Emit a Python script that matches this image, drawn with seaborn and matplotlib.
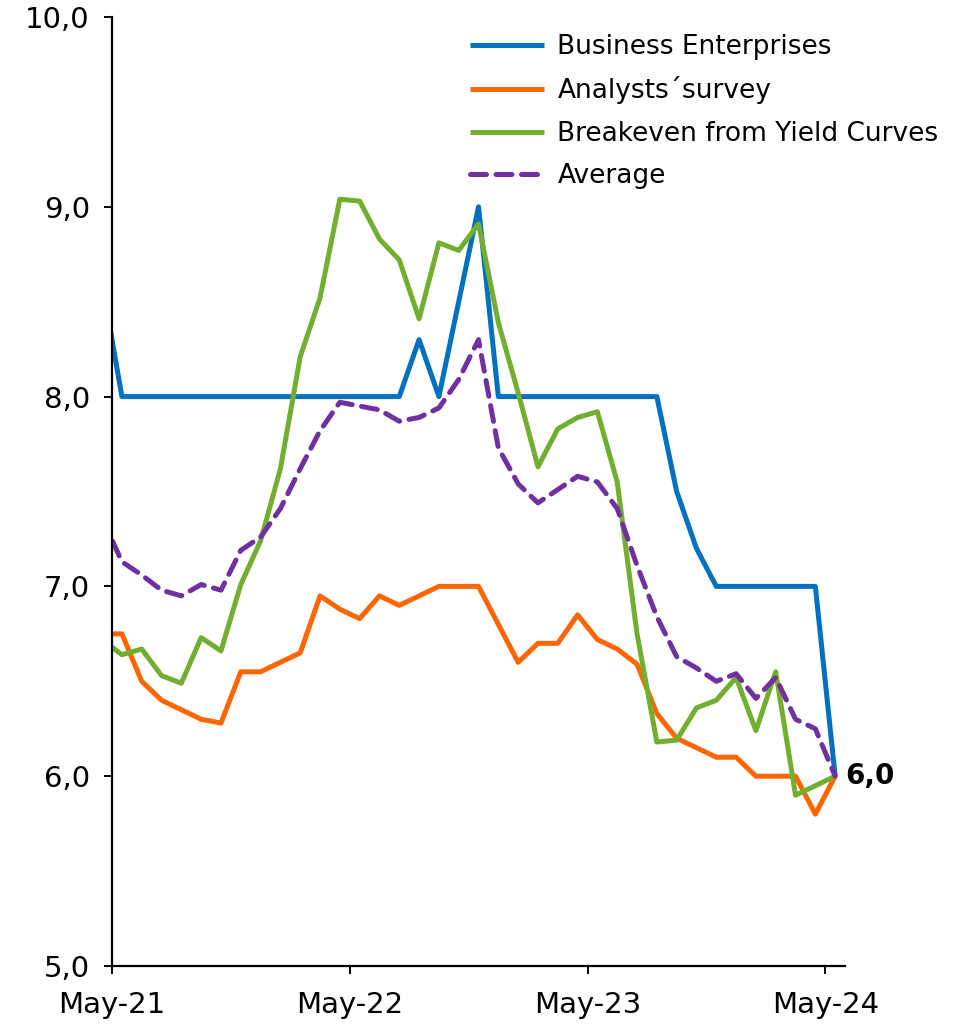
#!/usr/bin/env python3

import numpy as np
import pandas as pd
import matplotlib
matplotlib.use("Agg")
import matplotlib.pyplot as plt
import seaborn as sns

# Monthly points, Apr-21 (clipped at the axis) through May-24
months = pd.date_range("2021-04-01", "2024-05-01", freq="MS")

business = [8.6, 8.0, 8.0, 8.0, 8.0, 8.0, 8.0, 8.0, 8.0, 8.0, 8.0,
            8.0, 8.0, 8.0, 8.0, 8.0, 8.3, 8.0, 8.5, 9.0, 8.0, 8.0,
            8.0, 8.0, 8.0, 8.0, 8.0, 8.0, 8.0, 7.5, 7.2, 7.0, 7.0,
            7.0, 7.0, 7.0, 7.0, 6.0]
analysts = [6.75, 6.75, 6.5, 6.4, 6.35, 6.3, 6.28, 6.55, 6.55, 6.6, 6.65,
            6.95, 6.88, 6.83, 6.95, 6.9, 6.95, 7.0, 7.0, 7.0, 6.8, 6.6,
            6.7, 6.7, 6.85, 6.72, 6.67, 6.59, 6.33, 6.2, 6.15, 6.1, 6.1,
            6.0, 6.0, 6.0, 5.8, 6.0]
breakeven = [6.72, 6.64, 6.67, 6.53, 6.49, 6.73, 6.66, 7.01, 7.24, 7.62, 8.21,
             8.52, 9.04, 9.03, 8.83, 8.72, 8.41, 8.81, 8.77, 8.91, 8.39, 8.02,
             7.63, 7.83, 7.89, 7.92, 7.55, 6.75, 6.18, 6.19, 6.36, 6.4, 6.52,
             6.24, 6.55, 5.9, 5.95, 6.0]
average = [7.36, 7.13, 7.06, 6.98, 6.95, 7.01, 6.98, 7.19, 7.26, 7.41, 7.62,
           7.82, 7.97, 7.95, 7.93, 7.87, 7.89, 7.94, 8.09, 8.3, 7.73, 7.54,
           7.44, 7.51, 7.58, 7.55, 7.41, 7.11, 6.84, 6.63, 6.57, 6.5, 6.54,
           6.41, 6.52, 6.3, 6.25, 6.0]

series_names = ["Business Enterprises", "Analysts\u00b4survey",
                "Breakeven from Yield Curves", "Average"]
colors = ["#0070C0", "#FF6600", "#72AE2F", "#7030A0"]

tick_labels = ["May-21", "May-22", "May-23", "May-24"]
tick_months = [0, 12, 24, 36]

# Each point sits in the middle of its month slot (category axis, ticks between)
xpos = np.arange(len(months)) - 1 + 0.5

df = pd.DataFrame({"x": xpos})
for name, vals in zip(series_names, [business, analysts, breakeven, average]):
    df[name] = vals
long_df = df.melt(id_vars="x", var_name="series", value_name="value")

sns.set_style("white")
plt.rcParams['font.family'] = ['DejaVu Sans']

fig = plt.figure(figsize=(9.68, 10.28), dpi=100)
ax = fig.add_axes([0.1157, 0.0603, 0.873 - 0.1157, 0.9835 - 0.0603])

for name, col in zip(series_names, colors):
    sub = long_df[long_df["series"] == name]
    ls = (0, (3.2, 1.9)) if name == "Average" else "-"
    sns.lineplot(data=sub, x="x", y="value", color=col, linewidth=3.6,
                 linestyle=ls, label=name, ax=ax, solid_capstyle="butt",
                 dash_capstyle="round")

ax.set_xlim(0, 37)
ax.set_ylim(5, 10)
ax.set_xticks(tick_months)
ax.set_xticklabels(tick_labels)
ax.set_yticks([5, 6, 7, 8, 9, 10])
ax.set_yticklabels([f"{v:.1f}".replace(".", ",") for v in [5, 6, 7, 8, 9, 10]])
ax.set_xlabel("")
ax.set_ylabel("")

for s in ["top", "right"]:
    ax.spines[s].set_visible(False)
for s in ["left", "bottom"]:
    ax.spines[s].set_color("black")
    ax.spines[s].set_linewidth(1.6)

ax.tick_params(axis="both", which="both", direction="out", length=6, width=1.4,
               color="black", labelsize=21, labelcolor="black", left=True, bottom=True)
ax.tick_params(axis="y", pad=10)
ax.tick_params(axis="x", pad=12)

# label for the last value
ax.text(37.0, average[-1], "6,0", fontsize=20, fontweight="bold",
        va="center", ha="left", color="black", clip_on=False)

leg = ax.legend(loc="upper right", bbox_to_anchor=(1.16, 1.007), frameon=False,
                fontsize=19, handlelength=2.8, handletextpad=0.5, labelspacing=0.62)
for t in leg.get_texts():
    t.set_color("black")

fig.savefig("out.png", dpi=100)
